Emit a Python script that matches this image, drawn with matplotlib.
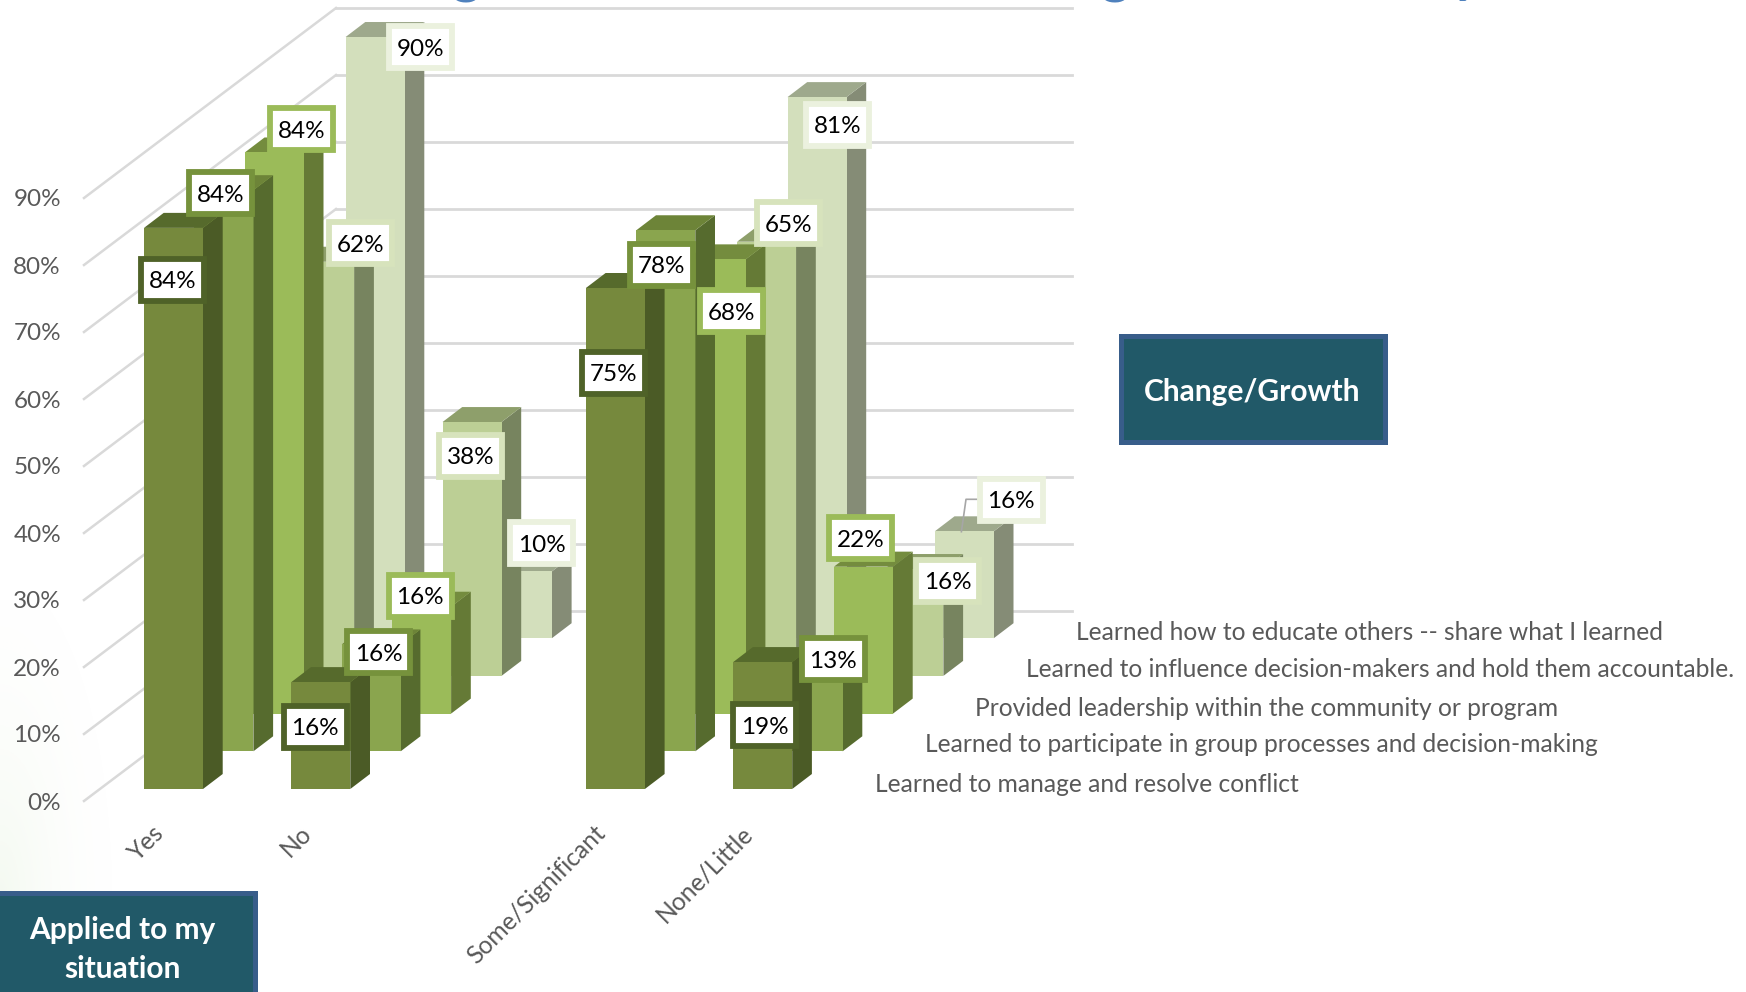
import matplotlib.pyplot as plt
import numpy as np
from matplotlib.patches import Polygon, Rectangle

categories = ["Yes", "No", "", "Some/Significant", "None/Little"]
series_names = [
    "Learned to manage and resolve conflict",
    "Learned to participate in group processes and decision-making",
    "Provided leadership within the community or program",
    "Learned to influence decision-makers and hold them accountable.",
    "Learned how to educate others -- share what I learned",
]
conflict = [84, 16, None, 75, 19]
group_process = [84, 16, None, 78, 13]
leadership = [84, 16, None, 68, 22]
influence = [62, 38, None, 65, 16]
educate = [90, 10, None, 81, 16]
series_values = [conflict, group_process, leadership, influence, educate]
axis_ticks = [0, 10, 20, 30, 40, 50, 60, 70, 80, 90]

# oblique projection, all in image pixels
X0, Y0 = 144.0, 789.0
CAT_STEP = 147.3
SER_DX, SER_DY = 50.4, -37.7
BAR_W, DEPTH_X, DEPTH_Y = 59.0, 19.7, -15.0
PX_PER_PCT = 6.68

front_cols = ["#76893D", "#8AA54E", "#9BBB59", "#BCCF95", "#D3DFBC"]
side_cols = ["#4B5B26", "#566B2E", "#657A36", "#77845F", "#858C76"]
top_cols = ["#566A2C", "#6D8438", "#748C3E", "#8E9F6B", "#9EA98C"]
edge_cols = ["#4F6228", "#76923C", "#9BBB59", "#D7E3BC", "#EBF1DE"]
GREY = "#595959"

# data label box centres, keyed by (category, series)
label_centres = {
    (0, 0): (172.6, 280), (0, 1): (220.8, 193), (0, 2): (301.6, 129.3), (0, 3): (360.9, 243.3), (0, 4): (420.2, 47.3),
    (1, 0): (315, 726.7), (1, 1): (378.7, 652.3), (1, 2): (420.2, 595.7), (1, 3): (470.3, 455.7), (1, 4): (541.5, 543.3),
    (3, 0): (613.1, 372.7), (3, 1): (661.9, 264.7), (3, 2): (731.2, 311.3), (3, 3): (788.6, 223.3), (3, 4): (837.2, 124.8),
    (4, 0): (764.5, 725), (4, 1): (833.4, 659), (4, 2): (860.8, 538.3), (4, 3): (947.4, 580.7), (4, 4): (1011.3, 500),
}


def project(cat, ser, value=0.0, depth=0.0, across=0.0):
    x = X0 + cat * CAT_STEP + ser * SER_DX + across * BAR_W + depth * DEPTH_X
    y = Y0 + ser * SER_DY - value * PX_PER_PCT + depth * DEPTH_Y
    return x, y


def draw_bar(ax, cat, ser, value):
    a = project(cat, ser, 0, 0, 0)
    b = project(cat, ser, 0, 0, 1)
    c = project(cat, ser, value, 0, 1)
    d = project(cat, ser, value, 0, 0)
    e = project(cat, ser, 0, 1, 1)
    f = project(cat, ser, value, 1, 1)
    g = project(cat, ser, value, 1, 0)
    ax.add_patch(Polygon([b, e, f, c], fc=side_cols[ser], ec="none"))
    ax.add_patch(Polygon([d, c, f, g], fc=top_cols[ser], ec="none"))
    ax.add_patch(Polygon([a, b, c, d], fc=front_cols[ser], ec="none"))


plt.rcParams["font.family"] = ["Lato", "DejaVu Sans"]
fig = plt.figure(figsize=(17.46, 9.92), dpi=100)
ax = fig.add_axes([0, 0, 1, 1])
ax.axis("off")

# faint green wash in the lower left corner
xx, yy = np.meshgrid(np.linspace(0, 1, 120), np.linspace(0, 1, 120))
wash = np.clip(1 - np.hypot(xx, (1 - yy) * 0.8), 0, 1) ** 2 * 0.22
rgba = np.zeros((120, 120, 4))
rgba[..., :3] = (0.80, 0.90, 0.75)
rgba[..., 3] = wash
ax.imshow(rgba, extent=(0, 130, 900, 600), aspect="auto", zorder=0)
ax.set_xlim(0, 1746)
ax.set_ylim(992, 0)

# cut-off descenders of the slide title above the chart
for x, glyph in [(466, "g"), (1115, "g"), (1467, "y")]:
    ax.text(x, -8, glyph, ha="center", va="baseline", fontsize=40, fontweight="bold", color="#4F81BD")

# walls
for tick in axis_ticks:
    y_front = 801 - tick * 6.7
    y_back = y_front - 190
    ax.plot([84, 336], [y_front, y_back], color="#D9D9D9", lw=1.8, zorder=1)
    ax.plot([336, 1072], [y_back, y_back], color="#D9D9D9", lw=2.0, zorder=1)
    ax.text(61, y_front + 2, f"{tick}%", ha="right", va="center", fontsize=17.5, color=GREY)

# back row first so the front rows cover it
for ser in range(4, -1, -1):
    for cat, value in enumerate(series_values[ser]):
        if value is not None:
            draw_bar(ax, cat, ser, value)

for ser, values in enumerate(series_values):
    for cat, value in enumerate(values):
        if value is None:
            continue
        cx, cy = label_centres[(cat, ser)]
        ax.add_patch(Rectangle((cx - 31.5, cy - 21), 63, 42, fc="white", ec=edge_cols[ser], lw=4.2, zorder=6))
        ax.text(cx, cy + 2, f"{value}%", ha="center", va="center", fontsize=17.5, color="black", zorder=7)

# leader line for the last label
ax.plot([961.4, 966, 977], [531.7, 499.3, 499.3], color="#A6A6A6", lw=1.2, zorder=5)

for cat, name in enumerate(categories):
    x0, _ = project(cat, 0)
    ax.text(x0 + 8, 821, name, rotation=45, rotation_mode="anchor", ha="right", va="top", fontsize=17.7, color=GREY)

series_y = [784, 745, 708, 669.5, 632]
for ser, name in enumerate(series_names):
    x0, _ = project(4, ser)
    ax.text(x0 + 141.4, series_y[ser], name, ha="left", va="center", fontsize=17.7, color=GREY)

ax.add_patch(Rectangle((1120.5, 335.5), 264, 106, fc="#215968", ec="#385D8A", lw=3.6, zorder=6))
ax.text(1252, 392, "Change/Growth", ha="center", va="center", fontsize=21.5, fontweight="bold", color="white", zorder=7)
ax.add_patch(Rectangle((-10, 893), 265, 120, fc="#215968", ec="#385D8A", lw=3.6, zorder=6))
ax.text(122.5, 930, "Applied to my", ha="center", va="center", fontsize=21.5, fontweight="bold", color="white", zorder=7)
ax.text(122.5, 969, "situation", ha="center", va="center", fontsize=21.5, fontweight="bold", color="white", zorder=7)

fig.savefig("out.png", dpi=100)
plt.close(fig)
